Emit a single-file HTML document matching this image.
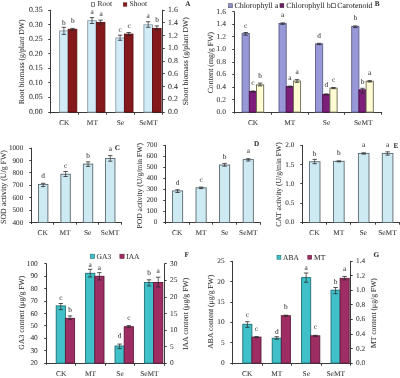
<!DOCTYPE html>
<html><head><meta charset="utf-8"><style>
html,body{margin:0;padding:0;background:#fff;}
svg{display:block;filter:blur(0.5px);}
text{font-family:"Liberation Serif",serif;fill:#333333;text-rendering:geometricPrecision;stroke:#333333;stroke-width:0.05px;}
</style></head><body>
<svg width="400" height="378" viewBox="0 0 400 378">
<rect x="0" y="0" width="400" height="378" fill="#fff"/>
<g>
<line x1="50.5" y1="9.8" x2="50.5" y2="113.6" stroke="#3a3a3a" stroke-width="1"/>
<line x1="48.3" y1="112.5" x2="50.5" y2="112.5" stroke="#3a3a3a" stroke-width="1"/>
<text x="42.6" y="114.05" font-size="7.8" text-anchor="end">0.00</text>
<line x1="48.3" y1="97.5" x2="50.5" y2="97.5" stroke="#3a3a3a" stroke-width="1"/>
<text x="42.6" y="99.49" font-size="7.8" text-anchor="end">0.05</text>
<line x1="48.3" y1="82.5" x2="50.5" y2="82.5" stroke="#3a3a3a" stroke-width="1"/>
<text x="42.6" y="84.94" font-size="7.8" text-anchor="end">0.10</text>
<line x1="48.3" y1="68.5" x2="50.5" y2="68.5" stroke="#3a3a3a" stroke-width="1"/>
<text x="42.6" y="70.38" font-size="7.8" text-anchor="end">0.15</text>
<line x1="48.3" y1="53.5" x2="50.5" y2="53.5" stroke="#3a3a3a" stroke-width="1"/>
<text x="42.6" y="55.82" font-size="7.8" text-anchor="end">0.20</text>
<line x1="48.3" y1="39.5" x2="50.5" y2="39.5" stroke="#3a3a3a" stroke-width="1"/>
<text x="42.6" y="41.26" font-size="7.8" text-anchor="end">0.25</text>
<line x1="48.3" y1="24.5" x2="50.5" y2="24.5" stroke="#3a3a3a" stroke-width="1"/>
<text x="42.6" y="26.71" font-size="7.8" text-anchor="end">0.30</text>
<line x1="48.3" y1="10.5" x2="50.5" y2="10.5" stroke="#3a3a3a" stroke-width="1"/>
<text x="42.6" y="12.15" font-size="7.8" text-anchor="end">0.35</text>
<line x1="162.5" y1="9.8" x2="162.5" y2="113.6" stroke="#3a3a3a" stroke-width="1"/>
<line x1="162.5" y1="112.5" x2="164.7" y2="112.5" stroke="#3a3a3a" stroke-width="1"/>
<text x="168.1" y="114.05" font-size="7.8" text-anchor="start">0.0</text>
<line x1="162.5" y1="99.5" x2="164.7" y2="99.5" stroke="#3a3a3a" stroke-width="1"/>
<text x="168.1" y="101.31" font-size="7.8" text-anchor="start">0.2</text>
<line x1="162.5" y1="86.5" x2="164.7" y2="86.5" stroke="#3a3a3a" stroke-width="1"/>
<text x="168.1" y="88.58" font-size="7.8" text-anchor="start">0.4</text>
<line x1="162.5" y1="73.5" x2="164.7" y2="73.5" stroke="#3a3a3a" stroke-width="1"/>
<text x="168.1" y="75.84" font-size="7.8" text-anchor="start">0.6</text>
<line x1="162.5" y1="61.5" x2="164.7" y2="61.5" stroke="#3a3a3a" stroke-width="1"/>
<text x="168.1" y="63.1" font-size="7.8" text-anchor="start">0.8</text>
<line x1="162.5" y1="48.5" x2="164.7" y2="48.5" stroke="#3a3a3a" stroke-width="1"/>
<text x="168.1" y="50.36" font-size="7.8" text-anchor="start">1.0</text>
<line x1="162.5" y1="35.5" x2="164.7" y2="35.5" stroke="#3a3a3a" stroke-width="1"/>
<text x="168.1" y="37.62" font-size="7.8" text-anchor="start">1.2</text>
<line x1="162.5" y1="22.5" x2="164.7" y2="22.5" stroke="#3a3a3a" stroke-width="1"/>
<text x="168.1" y="24.89" font-size="7.8" text-anchor="start">1.4</text>
<line x1="162.5" y1="10.5" x2="164.7" y2="10.5" stroke="#3a3a3a" stroke-width="1"/>
<text x="168.1" y="12.15" font-size="7.8" text-anchor="start">1.6</text>
<line x1="48.8" y1="112.5" x2="163" y2="112.5" stroke="#3a3a3a" stroke-width="1"/>
<line x1="78.5" y1="112.5" x2="78.5" y2="114.7" stroke="#3a3a3a" stroke-width="1"/>
<line x1="106.5" y1="112.5" x2="106.5" y2="114.7" stroke="#3a3a3a" stroke-width="1"/>
<line x1="134.5" y1="112.5" x2="134.5" y2="114.7" stroke="#3a3a3a" stroke-width="1"/>
<line x1="162.5" y1="112.5" x2="162.5" y2="114.7" stroke="#3a3a3a" stroke-width="1"/>
<text x="64.33" y="124.7" font-size="7.4" text-anchor="middle">CK</text>
<text x="92.38" y="124.7" font-size="7.4" text-anchor="middle">MT</text>
<text x="120.42" y="124.7" font-size="7.4" text-anchor="middle">Se</text>
<text x="148.47" y="124.7" font-size="7.4" text-anchor="middle">SeMT</text>
<rect x="59.6" y="30.9" width="8.6" height="81.2" fill="#d2ecf7" stroke="#8a9ca6" stroke-width="0.9"/>
<line x1="63.9" y1="27.3" x2="63.9" y2="34.4" stroke="#2a2a2a" stroke-width="0.7"/>
<line x1="61.7" y1="27.3" x2="66.1" y2="27.3" stroke="#2a2a2a" stroke-width="0.8"/>
<line x1="61.7" y1="34.4" x2="66.1" y2="34.4" stroke="#2a2a2a" stroke-width="0.8"/>
<text x="63.9" y="24.8" font-size="7.3" text-anchor="middle">b</text>
<rect x="68.2" y="29.3" width="8.6" height="82.8" fill="#85181b" stroke="#5a0e10" stroke-width="0.9"/>
<line x1="72.5" y1="28.4" x2="72.5" y2="30.3" stroke="#2a2a2a" stroke-width="0.7"/>
<line x1="70.3" y1="28.4" x2="74.7" y2="28.4" stroke="#2a2a2a" stroke-width="0.8"/>
<line x1="70.3" y1="30.3" x2="74.7" y2="30.3" stroke="#2a2a2a" stroke-width="0.8"/>
<text x="72.9" y="22.5" font-size="7.3" text-anchor="middle">b</text>
<rect x="87.7" y="20.7" width="8.6" height="91.4" fill="#d2ecf7" stroke="#8a9ca6" stroke-width="0.9"/>
<line x1="92" y1="17.6" x2="92" y2="23.5" stroke="#2a2a2a" stroke-width="0.7"/>
<line x1="89.8" y1="17.6" x2="94.2" y2="17.6" stroke="#2a2a2a" stroke-width="0.8"/>
<line x1="89.8" y1="23.5" x2="94.2" y2="23.5" stroke="#2a2a2a" stroke-width="0.8"/>
<text x="92" y="14.4" font-size="7.3" text-anchor="middle">a</text>
<rect x="96.3" y="22.4" width="8.6" height="89.7" fill="#85181b" stroke="#5a0e10" stroke-width="0.9"/>
<line x1="100.6" y1="20.1" x2="100.6" y2="24.2" stroke="#2a2a2a" stroke-width="0.7"/>
<line x1="98.4" y1="20.1" x2="102.8" y2="20.1" stroke="#2a2a2a" stroke-width="0.8"/>
<line x1="98.4" y1="24.2" x2="102.8" y2="24.2" stroke="#2a2a2a" stroke-width="0.8"/>
<text x="101" y="16.1" font-size="7.3" text-anchor="middle">a</text>
<rect x="115.8" y="38" width="8.6" height="74.1" fill="#d2ecf7" stroke="#8a9ca6" stroke-width="0.9"/>
<line x1="120.1" y1="35.2" x2="120.1" y2="40.3" stroke="#2a2a2a" stroke-width="0.7"/>
<line x1="117.9" y1="35.2" x2="122.3" y2="35.2" stroke="#2a2a2a" stroke-width="0.8"/>
<line x1="117.9" y1="40.3" x2="122.3" y2="40.3" stroke="#2a2a2a" stroke-width="0.8"/>
<text x="120.1" y="31.9" font-size="7.3" text-anchor="middle">c</text>
<rect x="124.4" y="34.1" width="8.6" height="78" fill="#85181b" stroke="#5a0e10" stroke-width="0.9"/>
<line x1="128.7" y1="32.5" x2="128.7" y2="35.7" stroke="#2a2a2a" stroke-width="0.7"/>
<line x1="126.5" y1="32.5" x2="130.9" y2="32.5" stroke="#2a2a2a" stroke-width="0.8"/>
<line x1="126.5" y1="35.7" x2="130.9" y2="35.7" stroke="#2a2a2a" stroke-width="0.8"/>
<text x="129.1" y="28.1" font-size="7.3" text-anchor="middle">c</text>
<rect x="143.9" y="24.8" width="8.6" height="87.3" fill="#d2ecf7" stroke="#8a9ca6" stroke-width="0.9"/>
<line x1="148.2" y1="21.75" x2="148.2" y2="27.3" stroke="#2a2a2a" stroke-width="0.7"/>
<line x1="146" y1="21.75" x2="150.4" y2="21.75" stroke="#2a2a2a" stroke-width="0.8"/>
<line x1="146" y1="27.3" x2="150.4" y2="27.3" stroke="#2a2a2a" stroke-width="0.8"/>
<text x="148.2" y="18.3" font-size="7.3" text-anchor="middle">a</text>
<rect x="152.5" y="28.4" width="8.6" height="83.7" fill="#85181b" stroke="#5a0e10" stroke-width="0.9"/>
<line x1="156.8" y1="25.9" x2="156.8" y2="30" stroke="#2a2a2a" stroke-width="0.7"/>
<line x1="154.6" y1="25.9" x2="159" y2="25.9" stroke="#2a2a2a" stroke-width="0.8"/>
<line x1="154.6" y1="30" x2="159" y2="30" stroke="#2a2a2a" stroke-width="0.8"/>
<text x="157.2" y="21.8" font-size="7.3" text-anchor="middle">b</text>
<text transform="translate(21.9,61.8) rotate(-90)" x="0" y="2.52" font-size="7.64" text-anchor="middle">Root biomass (g/plant DW)</text>
<text transform="translate(185.2,61.25) rotate(-90)" x="0" y="2.54" font-size="7.7" text-anchor="middle">Shoot biomass (g/plant DW)</text>
<rect x="91.3" y="2.8" width="3.4" height="3.4" fill="#ffffff" stroke="#333" stroke-width="0.6"/>
<text x="97.6" y="6.4" font-size="7.5" text-anchor="start">Root</text>
<rect x="123.4" y="2.8" width="3.4" height="3.4" fill="#85181b" stroke="#5a0e10" stroke-width="0.6"/>
<text x="129.5" y="6.4" font-size="7.5" text-anchor="start">Shoot</text>
<text x="187.8" y="6.3" font-size="7.2" text-anchor="middle" font-weight="bold">A</text>
</g>
<g>
<line x1="234.5" y1="11.5" x2="234.5" y2="113.6" stroke="#3a3a3a" stroke-width="1"/>
<line x1="232.3" y1="112.5" x2="234.5" y2="112.5" stroke="#3a3a3a" stroke-width="1"/>
<text x="225.9" y="114.05" font-size="7.5" text-anchor="end">0.0</text>
<line x1="232.3" y1="99.5" x2="234.5" y2="99.5" stroke="#3a3a3a" stroke-width="1"/>
<text x="225.9" y="101.52" font-size="7.5" text-anchor="end">0.2</text>
<line x1="232.3" y1="87.5" x2="234.5" y2="87.5" stroke="#3a3a3a" stroke-width="1"/>
<text x="225.9" y="89" font-size="7.5" text-anchor="end">0.4</text>
<line x1="232.3" y1="74.5" x2="234.5" y2="74.5" stroke="#3a3a3a" stroke-width="1"/>
<text x="225.9" y="76.48" font-size="7.5" text-anchor="end">0.6</text>
<line x1="232.3" y1="62.5" x2="234.5" y2="62.5" stroke="#3a3a3a" stroke-width="1"/>
<text x="225.9" y="63.95" font-size="7.5" text-anchor="end">0.8</text>
<line x1="232.3" y1="49.5" x2="234.5" y2="49.5" stroke="#3a3a3a" stroke-width="1"/>
<text x="225.9" y="51.43" font-size="7.5" text-anchor="end">1.0</text>
<line x1="232.3" y1="36.5" x2="234.5" y2="36.5" stroke="#3a3a3a" stroke-width="1"/>
<text x="225.9" y="38.9" font-size="7.5" text-anchor="end">1.2</text>
<line x1="232.3" y1="24.5" x2="234.5" y2="24.5" stroke="#3a3a3a" stroke-width="1"/>
<text x="225.9" y="26.38" font-size="7.5" text-anchor="end">1.4</text>
<line x1="232.3" y1="11.5" x2="234.5" y2="11.5" stroke="#3a3a3a" stroke-width="1"/>
<text x="225.9" y="13.85" font-size="7.5" text-anchor="end">1.6</text>
<line x1="233.2" y1="112.5" x2="382.1" y2="112.5" stroke="#3a3a3a" stroke-width="1"/>
<line x1="271.5" y1="112.5" x2="271.5" y2="114.7" stroke="#3a3a3a" stroke-width="1"/>
<line x1="308.5" y1="112.5" x2="308.5" y2="114.7" stroke="#3a3a3a" stroke-width="1"/>
<line x1="344.5" y1="112.5" x2="344.5" y2="114.7" stroke="#3a3a3a" stroke-width="1"/>
<line x1="381.5" y1="112.5" x2="381.5" y2="114.7" stroke="#3a3a3a" stroke-width="1"/>
<text x="253.06" y="124.7" font-size="7.4" text-anchor="middle">CK</text>
<text x="289.79" y="124.7" font-size="7.4" text-anchor="middle">MT</text>
<text x="326.51" y="124.7" font-size="7.4" text-anchor="middle">Se</text>
<text x="363.24" y="124.7" font-size="7.4" text-anchor="middle">SeMT</text>
<rect x="242.1" y="33.4" width="7.2" height="78.7" fill="#9898d8" stroke="#5c5c8c" stroke-width="0.9"/>
<line x1="245.7" y1="32.5" x2="245.7" y2="35.2" stroke="#2a2a2a" stroke-width="0.7"/>
<line x1="243.5" y1="32.5" x2="247.9" y2="32.5" stroke="#2a2a2a" stroke-width="0.8"/>
<line x1="243.5" y1="35.2" x2="247.9" y2="35.2" stroke="#2a2a2a" stroke-width="0.8"/>
<text x="245.7" y="27.6" font-size="7.3" text-anchor="middle">c</text>
<rect x="249.3" y="91.5" width="7.2" height="20.6" fill="#7c1e7a" stroke="#4f104c" stroke-width="0.9"/>
<line x1="252.9" y1="91" x2="252.9" y2="92.1" stroke="#2a2a2a" stroke-width="0.7"/>
<line x1="250.7" y1="91" x2="255.1" y2="91" stroke="#2a2a2a" stroke-width="0.8"/>
<line x1="250.7" y1="92.1" x2="255.1" y2="92.1" stroke="#2a2a2a" stroke-width="0.8"/>
<text x="252.9" y="84.5" font-size="7.3" text-anchor="middle">c</text>
<rect x="256.5" y="84.9" width="7.2" height="27.2" fill="#fffbd2" stroke="#6a6a50" stroke-width="0.9"/>
<line x1="260.1" y1="83.1" x2="260.1" y2="85.9" stroke="#2a2a2a" stroke-width="0.7"/>
<line x1="257.9" y1="83.1" x2="262.3" y2="83.1" stroke="#2a2a2a" stroke-width="0.8"/>
<line x1="257.9" y1="85.9" x2="262.3" y2="85.9" stroke="#2a2a2a" stroke-width="0.8"/>
<text x="260.1" y="77.5" font-size="7.3" text-anchor="middle">b</text>
<rect x="279" y="23.4" width="7.2" height="88.7" fill="#9898d8" stroke="#5c5c8c" stroke-width="0.9"/>
<line x1="282.6" y1="22.9" x2="282.6" y2="24.4" stroke="#2a2a2a" stroke-width="0.7"/>
<line x1="280.4" y1="22.9" x2="284.8" y2="22.9" stroke="#2a2a2a" stroke-width="0.8"/>
<line x1="280.4" y1="24.4" x2="284.8" y2="24.4" stroke="#2a2a2a" stroke-width="0.8"/>
<text x="282.6" y="16.9" font-size="7.3" text-anchor="middle">a</text>
<rect x="286.2" y="86.6" width="7.2" height="25.5" fill="#7c1e7a" stroke="#4f104c" stroke-width="0.9"/>
<line x1="289.8" y1="86.1" x2="289.8" y2="87.2" stroke="#2a2a2a" stroke-width="0.7"/>
<line x1="287.6" y1="86.1" x2="292" y2="86.1" stroke="#2a2a2a" stroke-width="0.8"/>
<line x1="287.6" y1="87.2" x2="292" y2="87.2" stroke="#2a2a2a" stroke-width="0.8"/>
<text x="289.8" y="80.1" font-size="7.3" text-anchor="middle">a</text>
<rect x="293.4" y="81" width="7.2" height="31.1" fill="#fffbd2" stroke="#6a6a50" stroke-width="0.9"/>
<line x1="297" y1="79.6" x2="297" y2="82.4" stroke="#2a2a2a" stroke-width="0.7"/>
<line x1="294.8" y1="79.6" x2="299.2" y2="79.6" stroke="#2a2a2a" stroke-width="0.8"/>
<line x1="294.8" y1="82.4" x2="299.2" y2="82.4" stroke="#2a2a2a" stroke-width="0.8"/>
<text x="297" y="74.4" font-size="7.3" text-anchor="middle">a</text>
<rect x="315.5" y="43.9" width="7.2" height="68.2" fill="#9898d8" stroke="#5c5c8c" stroke-width="0.9"/>
<line x1="319.1" y1="43.3" x2="319.1" y2="44.6" stroke="#2a2a2a" stroke-width="0.7"/>
<line x1="316.9" y1="43.3" x2="321.3" y2="43.3" stroke="#2a2a2a" stroke-width="0.8"/>
<line x1="316.9" y1="44.6" x2="321.3" y2="44.6" stroke="#2a2a2a" stroke-width="0.8"/>
<text x="319.1" y="38" font-size="7.3" text-anchor="middle">d</text>
<rect x="322.7" y="94.4" width="7.2" height="17.7" fill="#7c1e7a" stroke="#4f104c" stroke-width="0.9"/>
<line x1="326.3" y1="93.9" x2="326.3" y2="95" stroke="#2a2a2a" stroke-width="0.7"/>
<line x1="324.1" y1="93.9" x2="328.5" y2="93.9" stroke="#2a2a2a" stroke-width="0.8"/>
<line x1="324.1" y1="95" x2="328.5" y2="95" stroke="#2a2a2a" stroke-width="0.8"/>
<text x="326.3" y="87.3" font-size="7.3" text-anchor="middle">d</text>
<rect x="329.9" y="88.1" width="7.2" height="24" fill="#fffbd2" stroke="#6a6a50" stroke-width="0.9"/>
<line x1="333.5" y1="87.5" x2="333.5" y2="88.7" stroke="#2a2a2a" stroke-width="0.7"/>
<line x1="331.3" y1="87.5" x2="335.7" y2="87.5" stroke="#2a2a2a" stroke-width="0.8"/>
<line x1="331.3" y1="88.7" x2="335.7" y2="88.7" stroke="#2a2a2a" stroke-width="0.8"/>
<text x="333.5" y="82.3" font-size="7.3" text-anchor="middle">c</text>
<rect x="351.7" y="26.4" width="7.2" height="85.7" fill="#9898d8" stroke="#5c5c8c" stroke-width="0.9"/>
<line x1="355.3" y1="25.9" x2="355.3" y2="27.6" stroke="#2a2a2a" stroke-width="0.7"/>
<line x1="353.1" y1="25.9" x2="357.5" y2="25.9" stroke="#2a2a2a" stroke-width="0.8"/>
<line x1="353.1" y1="27.6" x2="357.5" y2="27.6" stroke="#2a2a2a" stroke-width="0.8"/>
<text x="355.3" y="20.3" font-size="7.3" text-anchor="middle">b</text>
<rect x="358.9" y="89.8" width="7.2" height="22.3" fill="#7c1e7a" stroke="#4f104c" stroke-width="0.9"/>
<line x1="362.5" y1="88.3" x2="362.5" y2="93" stroke="#2a2a2a" stroke-width="0.7"/>
<line x1="360.3" y1="88.3" x2="364.7" y2="88.3" stroke="#2a2a2a" stroke-width="0.8"/>
<line x1="360.3" y1="93" x2="364.7" y2="93" stroke="#2a2a2a" stroke-width="0.8"/>
<text x="362.5" y="84.1" font-size="7.3" text-anchor="middle">b</text>
<rect x="366.1" y="81.3" width="7.2" height="30.8" fill="#fffbd2" stroke="#6a6a50" stroke-width="0.9"/>
<line x1="369.7" y1="80.6" x2="369.7" y2="82" stroke="#2a2a2a" stroke-width="0.7"/>
<line x1="367.5" y1="80.6" x2="371.9" y2="80.6" stroke="#2a2a2a" stroke-width="0.8"/>
<line x1="367.5" y1="82" x2="371.9" y2="82" stroke="#2a2a2a" stroke-width="0.8"/>
<text x="369.7" y="75.3" font-size="7.3" text-anchor="middle">a</text>
<text transform="translate(210.9,62.6) rotate(-90)" x="0" y="2.57" font-size="7.8" text-anchor="middle">Content (mg/g FW)</text>
<rect x="228.5" y="3.7" width="4" height="4" fill="#8e8ec4" stroke="#555577" stroke-width="0.6"/>
<text x="234.4" y="7.8" font-size="7.95" text-anchor="start">Chlorophyll a</text>
<rect x="280" y="3.7" width="3.8" height="3.8" fill="#6e2068" stroke="#3a1038" stroke-width="0.6"/>
<text x="286.3" y="7.8" font-size="7.95" text-anchor="start">Chlorophyll b</text>
<rect x="331.4" y="3.7" width="4" height="4" fill="#ffffff" stroke="#333" stroke-width="0.6"/>
<text x="337.3" y="7.8" font-size="7.95" text-anchor="start">Carotenoid</text>
<text x="377.1" y="6.1" font-size="7.2" text-anchor="middle" font-weight="bold">B</text>
</g>
<g>
<line x1="31.5" y1="147.8" x2="31.5" y2="224.05" stroke="#3a3a3a" stroke-width="1"/>
<line x1="29.3" y1="222.5" x2="31.5" y2="222.5" stroke="#3a3a3a" stroke-width="1"/>
<text x="23.3" y="224.5" font-size="7.2" text-anchor="end">400</text>
<line x1="29.3" y1="210.5" x2="31.5" y2="210.5" stroke="#3a3a3a" stroke-width="1"/>
<text x="23.3" y="212.11" font-size="7.2" text-anchor="end">500</text>
<line x1="29.3" y1="197.5" x2="31.5" y2="197.5" stroke="#3a3a3a" stroke-width="1"/>
<text x="23.3" y="199.72" font-size="7.2" text-anchor="end">600</text>
<line x1="29.3" y1="185.5" x2="31.5" y2="185.5" stroke="#3a3a3a" stroke-width="1"/>
<text x="23.3" y="187.32" font-size="7.2" text-anchor="end">700</text>
<line x1="29.3" y1="172.5" x2="31.5" y2="172.5" stroke="#3a3a3a" stroke-width="1"/>
<text x="23.3" y="174.93" font-size="7.2" text-anchor="end">800</text>
<line x1="29.3" y1="160.5" x2="31.5" y2="160.5" stroke="#3a3a3a" stroke-width="1"/>
<text x="23.3" y="162.54" font-size="7.2" text-anchor="end">900</text>
<line x1="29.3" y1="148.5" x2="31.5" y2="148.5" stroke="#3a3a3a" stroke-width="1"/>
<text x="23.3" y="150.15" font-size="7.2" text-anchor="end">1000</text>
<line x1="29.85" y1="222.5" x2="121.85" y2="222.5" stroke="#3a3a3a" stroke-width="1"/>
<line x1="53.5" y1="222.5" x2="53.5" y2="224.7" stroke="#3a3a3a" stroke-width="1"/>
<line x1="76.5" y1="222.5" x2="76.5" y2="224.7" stroke="#3a3a3a" stroke-width="1"/>
<line x1="98.5" y1="222.5" x2="98.5" y2="224.7" stroke="#3a3a3a" stroke-width="1"/>
<line x1="121.5" y1="222.5" x2="121.5" y2="224.7" stroke="#3a3a3a" stroke-width="1"/>
<text x="42.6" y="235.2" font-size="7.4" text-anchor="middle">CK</text>
<text x="65.1" y="235.2" font-size="7.4" text-anchor="middle">MT</text>
<text x="87.6" y="235.2" font-size="7.4" text-anchor="middle">Se</text>
<text x="110.1" y="235.2" font-size="7.4" text-anchor="middle">SeMT</text>
<rect x="38.5" y="184.4" width="9.4" height="38.15" fill="#cdeaf2" stroke="#5b6870" stroke-width="0.9"/>
<line x1="43.2" y1="183.3" x2="43.2" y2="186.6" stroke="#2a2a2a" stroke-width="0.7"/>
<line x1="41" y1="183.3" x2="45.4" y2="183.3" stroke="#2a2a2a" stroke-width="0.8"/>
<line x1="41" y1="186.6" x2="45.4" y2="186.6" stroke="#2a2a2a" stroke-width="0.8"/>
<text x="43.2" y="178.3" font-size="7.3" text-anchor="middle">d</text>
<rect x="60.9" y="174.25" width="9.4" height="48.3" fill="#cdeaf2" stroke="#5b6870" stroke-width="0.9"/>
<line x1="65.6" y1="171.5" x2="65.6" y2="176.5" stroke="#2a2a2a" stroke-width="0.7"/>
<line x1="63.4" y1="171.5" x2="67.8" y2="171.5" stroke="#2a2a2a" stroke-width="0.8"/>
<line x1="63.4" y1="176.5" x2="67.8" y2="176.5" stroke="#2a2a2a" stroke-width="0.8"/>
<text x="65.6" y="168" font-size="7.3" text-anchor="middle">c</text>
<rect x="83.35" y="164.1" width="9.4" height="58.45" fill="#cdeaf2" stroke="#5b6870" stroke-width="0.9"/>
<line x1="88.05" y1="161.9" x2="88.05" y2="166.4" stroke="#2a2a2a" stroke-width="0.7"/>
<line x1="85.85" y1="161.9" x2="90.25" y2="161.9" stroke="#2a2a2a" stroke-width="0.8"/>
<line x1="85.85" y1="166.4" x2="90.25" y2="166.4" stroke="#2a2a2a" stroke-width="0.8"/>
<text x="88.05" y="158" font-size="7.3" text-anchor="middle">b</text>
<rect x="105.55" y="158.5" width="9.4" height="64.05" fill="#cdeaf2" stroke="#5b6870" stroke-width="0.9"/>
<line x1="110.25" y1="155.6" x2="110.25" y2="161.2" stroke="#2a2a2a" stroke-width="0.7"/>
<line x1="108.05" y1="155.6" x2="112.45" y2="155.6" stroke="#2a2a2a" stroke-width="0.8"/>
<line x1="108.05" y1="161.2" x2="112.45" y2="161.2" stroke="#2a2a2a" stroke-width="0.8"/>
<text x="110.25" y="151.4" font-size="7.3" text-anchor="middle">a</text>
<text transform="translate(3.9,187) rotate(-90)" x="0" y="2.59" font-size="7.85" text-anchor="middle">SOD activity (U/g FW)</text>
<text x="117.45" y="149.9" font-size="7.2" text-anchor="middle" font-weight="bold">C</text>
</g>
<g>
<line x1="165.5" y1="144.9" x2="165.5" y2="224" stroke="#3a3a3a" stroke-width="1"/>
<line x1="163.3" y1="222.5" x2="165.5" y2="222.5" stroke="#3a3a3a" stroke-width="1"/>
<text x="157.3" y="224.45" font-size="7.2" text-anchor="end">0</text>
<line x1="163.3" y1="211.5" x2="165.5" y2="211.5" stroke="#3a3a3a" stroke-width="1"/>
<text x="157.3" y="213.42" font-size="7.2" text-anchor="end">100</text>
<line x1="163.3" y1="200.5" x2="165.5" y2="200.5" stroke="#3a3a3a" stroke-width="1"/>
<text x="157.3" y="202.39" font-size="7.2" text-anchor="end">200</text>
<line x1="163.3" y1="189.5" x2="165.5" y2="189.5" stroke="#3a3a3a" stroke-width="1"/>
<text x="157.3" y="191.36" font-size="7.2" text-anchor="end">300</text>
<line x1="163.3" y1="178.5" x2="165.5" y2="178.5" stroke="#3a3a3a" stroke-width="1"/>
<text x="157.3" y="180.34" font-size="7.2" text-anchor="end">400</text>
<line x1="163.3" y1="167.5" x2="165.5" y2="167.5" stroke="#3a3a3a" stroke-width="1"/>
<text x="157.3" y="169.31" font-size="7.2" text-anchor="end">500</text>
<line x1="163.3" y1="156.5" x2="165.5" y2="156.5" stroke="#3a3a3a" stroke-width="1"/>
<text x="157.3" y="158.28" font-size="7.2" text-anchor="end">600</text>
<line x1="163.3" y1="145.5" x2="165.5" y2="145.5" stroke="#3a3a3a" stroke-width="1"/>
<text x="157.3" y="147.25" font-size="7.2" text-anchor="end">700</text>
<line x1="163.9" y1="222.5" x2="260.7" y2="222.5" stroke="#3a3a3a" stroke-width="1"/>
<line x1="189.5" y1="222.5" x2="189.5" y2="224.7" stroke="#3a3a3a" stroke-width="1"/>
<line x1="212.5" y1="222.5" x2="212.5" y2="224.7" stroke="#3a3a3a" stroke-width="1"/>
<line x1="236.5" y1="222.5" x2="236.5" y2="224.7" stroke="#3a3a3a" stroke-width="1"/>
<line x1="260.5" y1="222.5" x2="260.5" y2="224.7" stroke="#3a3a3a" stroke-width="1"/>
<text x="177.25" y="235.2" font-size="7.4" text-anchor="middle">CK</text>
<text x="200.95" y="235.2" font-size="7.4" text-anchor="middle">MT</text>
<text x="224.65" y="235.2" font-size="7.4" text-anchor="middle">Se</text>
<text x="248.35" y="235.2" font-size="7.4" text-anchor="middle">SeMT</text>
<rect x="172.45" y="190.9" width="10.2" height="31.6" fill="#cdeaf2" stroke="#5b6870" stroke-width="0.9"/>
<line x1="177.55" y1="189.7" x2="177.55" y2="192.5" stroke="#2a2a2a" stroke-width="0.7"/>
<line x1="175.35" y1="189.7" x2="179.75" y2="189.7" stroke="#2a2a2a" stroke-width="0.8"/>
<line x1="175.35" y1="192.5" x2="179.75" y2="192.5" stroke="#2a2a2a" stroke-width="0.8"/>
<text x="177.55" y="185" font-size="7.3" text-anchor="middle">d</text>
<rect x="196" y="187.8" width="10.2" height="34.7" fill="#cdeaf2" stroke="#5b6870" stroke-width="0.9"/>
<line x1="201.1" y1="187.1" x2="201.1" y2="188.6" stroke="#2a2a2a" stroke-width="0.7"/>
<line x1="198.9" y1="187.1" x2="203.3" y2="187.1" stroke="#2a2a2a" stroke-width="0.8"/>
<line x1="198.9" y1="188.6" x2="203.3" y2="188.6" stroke="#2a2a2a" stroke-width="0.8"/>
<text x="201.1" y="181.5" font-size="7.3" text-anchor="middle">c</text>
<rect x="219.45" y="165" width="10.2" height="57.5" fill="#cdeaf2" stroke="#5b6870" stroke-width="0.9"/>
<line x1="224.55" y1="163.4" x2="224.55" y2="166.2" stroke="#2a2a2a" stroke-width="0.7"/>
<line x1="222.35" y1="163.4" x2="226.75" y2="163.4" stroke="#2a2a2a" stroke-width="0.8"/>
<line x1="222.35" y1="166.2" x2="226.75" y2="166.2" stroke="#2a2a2a" stroke-width="0.8"/>
<text x="224.55" y="158.7" font-size="7.3" text-anchor="middle">b</text>
<rect x="243.15" y="159.6" width="10.2" height="62.9" fill="#cdeaf2" stroke="#5b6870" stroke-width="0.9"/>
<line x1="248.25" y1="158.7" x2="248.25" y2="161" stroke="#2a2a2a" stroke-width="0.7"/>
<line x1="246.05" y1="158.7" x2="250.45" y2="158.7" stroke="#2a2a2a" stroke-width="0.8"/>
<line x1="246.05" y1="161" x2="250.45" y2="161" stroke="#2a2a2a" stroke-width="0.8"/>
<text x="248.25" y="153.3" font-size="7.3" text-anchor="middle">a</text>
<text transform="translate(139.1,185.75) rotate(-90)" x="0" y="2.51" font-size="7.6" text-anchor="middle">POD activity (U/g/min FW)</text>
<text x="256.5" y="146.2" font-size="7.2" text-anchor="middle" font-weight="bold">D</text>
</g>
<g>
<line x1="302.5" y1="144.9" x2="302.5" y2="224" stroke="#3a3a3a" stroke-width="1"/>
<line x1="300.3" y1="222.5" x2="302.5" y2="222.5" stroke="#3a3a3a" stroke-width="1"/>
<text x="294.3" y="224.45" font-size="7.2" text-anchor="end">0.0</text>
<line x1="300.3" y1="203.5" x2="302.5" y2="203.5" stroke="#3a3a3a" stroke-width="1"/>
<text x="294.3" y="205.15" font-size="7.2" text-anchor="end">0.5</text>
<line x1="300.3" y1="183.5" x2="302.5" y2="183.5" stroke="#3a3a3a" stroke-width="1"/>
<text x="294.3" y="185.85" font-size="7.2" text-anchor="end">1.0</text>
<line x1="300.3" y1="164.5" x2="302.5" y2="164.5" stroke="#3a3a3a" stroke-width="1"/>
<text x="294.3" y="166.55" font-size="7.2" text-anchor="end">1.5</text>
<line x1="300.3" y1="145.5" x2="302.5" y2="145.5" stroke="#3a3a3a" stroke-width="1"/>
<text x="294.3" y="147.25" font-size="7.2" text-anchor="end">2.0</text>
<line x1="300.8" y1="222.5" x2="400.1" y2="222.5" stroke="#3a3a3a" stroke-width="1"/>
<line x1="326.5" y1="222.5" x2="326.5" y2="224.7" stroke="#3a3a3a" stroke-width="1"/>
<line x1="350.5" y1="222.5" x2="350.5" y2="224.7" stroke="#3a3a3a" stroke-width="1"/>
<line x1="375.5" y1="222.5" x2="375.5" y2="224.7" stroke="#3a3a3a" stroke-width="1"/>
<line x1="399.5" y1="222.5" x2="399.5" y2="224.7" stroke="#3a3a3a" stroke-width="1"/>
<text x="314.46" y="235.2" font-size="7.4" text-anchor="middle">CK</text>
<text x="338.79" y="235.2" font-size="7.4" text-anchor="middle">MT</text>
<text x="363.11" y="235.2" font-size="7.4" text-anchor="middle">Se</text>
<text x="387.44" y="235.2" font-size="7.4" text-anchor="middle">SeMT</text>
<rect x="309.4" y="161.75" width="10.6" height="60.75" fill="#cdeaf2" stroke="#5b6870" stroke-width="0.9"/>
<line x1="314.7" y1="159.4" x2="314.7" y2="163.7" stroke="#2a2a2a" stroke-width="0.7"/>
<line x1="312.5" y1="159.4" x2="316.9" y2="159.4" stroke="#2a2a2a" stroke-width="0.8"/>
<line x1="312.5" y1="163.7" x2="316.9" y2="163.7" stroke="#2a2a2a" stroke-width="0.8"/>
<text x="314.7" y="155.8" font-size="7.3" text-anchor="middle">b</text>
<rect x="333.55" y="161.3" width="10.6" height="61.2" fill="#cdeaf2" stroke="#5b6870" stroke-width="0.9"/>
<line x1="338.85" y1="160.9" x2="338.85" y2="161.8" stroke="#2a2a2a" stroke-width="0.7"/>
<line x1="336.65" y1="160.9" x2="341.05" y2="160.9" stroke="#2a2a2a" stroke-width="0.8"/>
<line x1="336.65" y1="161.8" x2="341.05" y2="161.8" stroke="#2a2a2a" stroke-width="0.8"/>
<text x="338.85" y="155.1" font-size="7.3" text-anchor="middle">b</text>
<rect x="358.4" y="153.4" width="10.6" height="69.1" fill="#cdeaf2" stroke="#5b6870" stroke-width="0.9"/>
<line x1="363.7" y1="152.8" x2="363.7" y2="154.1" stroke="#2a2a2a" stroke-width="0.7"/>
<line x1="361.5" y1="152.8" x2="365.9" y2="152.8" stroke="#2a2a2a" stroke-width="0.8"/>
<line x1="361.5" y1="154.1" x2="365.9" y2="154.1" stroke="#2a2a2a" stroke-width="0.8"/>
<text x="363.7" y="147" font-size="7.3" text-anchor="middle">a</text>
<rect x="382.3" y="153.4" width="10.6" height="69.1" fill="#cdeaf2" stroke="#5b6870" stroke-width="0.9"/>
<line x1="387.6" y1="151.8" x2="387.6" y2="155.1" stroke="#2a2a2a" stroke-width="0.7"/>
<line x1="385.4" y1="151.8" x2="389.8" y2="151.8" stroke="#2a2a2a" stroke-width="0.8"/>
<line x1="385.4" y1="155.1" x2="389.8" y2="155.1" stroke="#2a2a2a" stroke-width="0.8"/>
<text x="387.6" y="147" font-size="7.3" text-anchor="middle">a</text>
<text transform="translate(278.1,184.5) rotate(-90)" x="0" y="2.51" font-size="7.6" text-anchor="middle">CAT activity (U/g/min FW)</text>
<text x="395.8" y="147.5" font-size="7.2" text-anchor="middle" font-weight="bold">E</text>
</g>
<g>
<line x1="46.5" y1="263.5" x2="46.5" y2="364.7" stroke="#3a3a3a" stroke-width="1"/>
<line x1="44.3" y1="363.5" x2="46.5" y2="363.5" stroke="#3a3a3a" stroke-width="1"/>
<text x="37.8" y="365.15" font-size="7.4" text-anchor="end">20</text>
<line x1="44.3" y1="350.5" x2="46.5" y2="350.5" stroke="#3a3a3a" stroke-width="1"/>
<text x="37.8" y="352.74" font-size="7.4" text-anchor="end">30</text>
<line x1="44.3" y1="338.5" x2="46.5" y2="338.5" stroke="#3a3a3a" stroke-width="1"/>
<text x="37.8" y="340.32" font-size="7.4" text-anchor="end">40</text>
<line x1="44.3" y1="325.5" x2="46.5" y2="325.5" stroke="#3a3a3a" stroke-width="1"/>
<text x="37.8" y="327.91" font-size="7.4" text-anchor="end">50</text>
<line x1="44.3" y1="313.5" x2="46.5" y2="313.5" stroke="#3a3a3a" stroke-width="1"/>
<text x="37.8" y="315.5" font-size="7.4" text-anchor="end">60</text>
<line x1="44.3" y1="301.5" x2="46.5" y2="301.5" stroke="#3a3a3a" stroke-width="1"/>
<text x="37.8" y="303.09" font-size="7.4" text-anchor="end">70</text>
<line x1="44.3" y1="288.5" x2="46.5" y2="288.5" stroke="#3a3a3a" stroke-width="1"/>
<text x="37.8" y="290.67" font-size="7.4" text-anchor="end">80</text>
<line x1="44.3" y1="276.5" x2="46.5" y2="276.5" stroke="#3a3a3a" stroke-width="1"/>
<text x="37.8" y="278.26" font-size="7.4" text-anchor="end">90</text>
<line x1="44.3" y1="263.5" x2="46.5" y2="263.5" stroke="#3a3a3a" stroke-width="1"/>
<text x="37.8" y="265.85" font-size="7.4" text-anchor="end">100</text>
<line x1="164.5" y1="263.5" x2="164.5" y2="364.7" stroke="#3a3a3a" stroke-width="1"/>
<line x1="164.5" y1="363.5" x2="166.7" y2="363.5" stroke="#3a3a3a" stroke-width="1"/>
<text x="170.1" y="365.15" font-size="7.4" text-anchor="start">0</text>
<line x1="164.5" y1="346.5" x2="166.7" y2="346.5" stroke="#3a3a3a" stroke-width="1"/>
<text x="170.1" y="348.6" font-size="7.4" text-anchor="start">5</text>
<line x1="164.5" y1="330.5" x2="166.7" y2="330.5" stroke="#3a3a3a" stroke-width="1"/>
<text x="170.1" y="332.05" font-size="7.4" text-anchor="start">10</text>
<line x1="164.5" y1="313.5" x2="166.7" y2="313.5" stroke="#3a3a3a" stroke-width="1"/>
<text x="170.1" y="315.5" font-size="7.4" text-anchor="start">15</text>
<line x1="164.5" y1="297.5" x2="166.7" y2="297.5" stroke="#3a3a3a" stroke-width="1"/>
<text x="170.1" y="298.95" font-size="7.4" text-anchor="start">20</text>
<line x1="164.5" y1="280.5" x2="166.7" y2="280.5" stroke="#3a3a3a" stroke-width="1"/>
<text x="170.1" y="282.4" font-size="7.4" text-anchor="start">25</text>
<line x1="164.5" y1="263.5" x2="166.7" y2="263.5" stroke="#3a3a3a" stroke-width="1"/>
<text x="170.1" y="265.85" font-size="7.4" text-anchor="start">30</text>
<line x1="45" y1="363.5" x2="164.6" y2="363.5" stroke="#3a3a3a" stroke-width="1"/>
<line x1="75.5" y1="363.5" x2="75.5" y2="365.7" stroke="#3a3a3a" stroke-width="1"/>
<line x1="105.5" y1="363.5" x2="105.5" y2="365.7" stroke="#3a3a3a" stroke-width="1"/>
<line x1="134.5" y1="363.5" x2="134.5" y2="365.7" stroke="#3a3a3a" stroke-width="1"/>
<line x1="164.5" y1="363.5" x2="164.5" y2="365.7" stroke="#3a3a3a" stroke-width="1"/>
<text x="61.2" y="375.8" font-size="7.4" text-anchor="middle">CK</text>
<text x="90.6" y="375.8" font-size="7.4" text-anchor="middle">MT</text>
<text x="120" y="375.8" font-size="7.4" text-anchor="middle">Se</text>
<text x="149.4" y="375.8" font-size="7.4" text-anchor="middle">SeMT</text>
<rect x="56.2" y="305.9" width="9.2" height="57.3" fill="#40c0c8" stroke="#1f6e74" stroke-width="0.9"/>
<line x1="60.8" y1="303.5" x2="60.8" y2="309.6" stroke="#2a2a2a" stroke-width="0.7"/>
<line x1="58.6" y1="303.5" x2="63" y2="303.5" stroke="#2a2a2a" stroke-width="0.8"/>
<line x1="58.6" y1="309.6" x2="63" y2="309.6" stroke="#2a2a2a" stroke-width="0.8"/>
<text x="60.8" y="299.8" font-size="7.3" text-anchor="middle">c</text>
<rect x="65.4" y="318.3" width="9.2" height="44.9" fill="#9e2d64" stroke="#5e1a3a" stroke-width="0.9"/>
<line x1="70" y1="315.9" x2="70" y2="319.6" stroke="#2a2a2a" stroke-width="0.7"/>
<line x1="67.8" y1="315.9" x2="72.2" y2="315.9" stroke="#2a2a2a" stroke-width="0.8"/>
<line x1="67.8" y1="319.6" x2="72.2" y2="319.6" stroke="#2a2a2a" stroke-width="0.8"/>
<text x="70" y="311.5" font-size="7.3" text-anchor="middle">b</text>
<rect x="85.6" y="273.3" width="9.2" height="89.9" fill="#40c0c8" stroke="#1f6e74" stroke-width="0.9"/>
<line x1="90.2" y1="269.3" x2="90.2" y2="277" stroke="#2a2a2a" stroke-width="0.7"/>
<line x1="88" y1="269.3" x2="92.4" y2="269.3" stroke="#2a2a2a" stroke-width="0.8"/>
<line x1="88" y1="277" x2="92.4" y2="277" stroke="#2a2a2a" stroke-width="0.8"/>
<text x="90.2" y="266.8" font-size="7.3" text-anchor="middle">a</text>
<rect x="94.8" y="276.3" width="9.2" height="86.9" fill="#9e2d64" stroke="#5e1a3a" stroke-width="0.9"/>
<line x1="99.4" y1="272.6" x2="99.4" y2="280" stroke="#2a2a2a" stroke-width="0.7"/>
<line x1="97.2" y1="272.6" x2="101.6" y2="272.6" stroke="#2a2a2a" stroke-width="0.8"/>
<line x1="97.2" y1="280" x2="101.6" y2="280" stroke="#2a2a2a" stroke-width="0.8"/>
<text x="99.4" y="270.2" font-size="7.3" text-anchor="middle">a</text>
<rect x="115" y="346" width="9.2" height="17.2" fill="#40c0c8" stroke="#1f6e74" stroke-width="0.9"/>
<line x1="119.6" y1="344.1" x2="119.6" y2="348.6" stroke="#2a2a2a" stroke-width="0.7"/>
<line x1="117.4" y1="344.1" x2="121.8" y2="344.1" stroke="#2a2a2a" stroke-width="0.8"/>
<line x1="117.4" y1="348.6" x2="121.8" y2="348.6" stroke="#2a2a2a" stroke-width="0.8"/>
<text x="119.6" y="338" font-size="7.3" text-anchor="middle">d</text>
<rect x="124.2" y="326.7" width="9.2" height="36.5" fill="#9e2d64" stroke="#5e1a3a" stroke-width="0.9"/>
<line x1="128.8" y1="325.6" x2="128.8" y2="327.7" stroke="#2a2a2a" stroke-width="0.7"/>
<line x1="126.6" y1="325.6" x2="131" y2="325.6" stroke="#2a2a2a" stroke-width="0.8"/>
<line x1="126.6" y1="327.7" x2="131" y2="327.7" stroke="#2a2a2a" stroke-width="0.8"/>
<text x="128.8" y="320.3" font-size="7.3" text-anchor="middle">c</text>
<rect x="144.4" y="282.5" width="9.2" height="80.7" fill="#40c0c8" stroke="#1f6e74" stroke-width="0.9"/>
<line x1="149" y1="279.8" x2="149" y2="285.9" stroke="#2a2a2a" stroke-width="0.7"/>
<line x1="146.8" y1="279.8" x2="151.2" y2="279.8" stroke="#2a2a2a" stroke-width="0.8"/>
<line x1="146.8" y1="285.9" x2="151.2" y2="285.9" stroke="#2a2a2a" stroke-width="0.8"/>
<text x="149" y="275.3" font-size="7.3" text-anchor="middle">b</text>
<rect x="153.6" y="282.5" width="9.2" height="80.7" fill="#9e2d64" stroke="#5e1a3a" stroke-width="0.9"/>
<line x1="158.2" y1="277.2" x2="158.2" y2="287" stroke="#2a2a2a" stroke-width="0.7"/>
<line x1="156" y1="277.2" x2="160.4" y2="277.2" stroke="#2a2a2a" stroke-width="0.8"/>
<line x1="156" y1="287" x2="160.4" y2="287" stroke="#2a2a2a" stroke-width="0.8"/>
<text x="158.2" y="272.7" font-size="7.3" text-anchor="middle">a</text>
<text transform="translate(21.9,312.7) rotate(-90)" x="0" y="2.54" font-size="7.7" text-anchor="middle">GA3 content (μg/g FW)</text>
<text transform="translate(185,313.9) rotate(-90)" x="0" y="2.54" font-size="7.7" text-anchor="middle">IAA content (μg/g FW)</text>
<rect x="90.4" y="254.2" width="4.2" height="4.2" fill="#40c0c8" stroke="#1f6e74" stroke-width="0.6"/>
<text x="96.6" y="258.6" font-size="7.5" text-anchor="start">GA3</text>
<rect x="119.9" y="254.2" width="4.2" height="4.2" fill="#9e2d64" stroke="#5e1a3a" stroke-width="0.6"/>
<text x="126.2" y="258.6" font-size="7.5" text-anchor="start">IAA</text>
<text x="186.8" y="257.2" font-size="7.2" text-anchor="middle" font-weight="bold">F</text>
</g>
<g>
<line x1="232.5" y1="260.95" x2="232.5" y2="364.6" stroke="#3a3a3a" stroke-width="1"/>
<line x1="230.3" y1="363.5" x2="232.5" y2="363.5" stroke="#3a3a3a" stroke-width="1"/>
<text x="224.6" y="365.05" font-size="7.3" text-anchor="end">0</text>
<line x1="230.3" y1="342.5" x2="232.5" y2="342.5" stroke="#3a3a3a" stroke-width="1"/>
<text x="224.6" y="344.7" font-size="7.3" text-anchor="end">5</text>
<line x1="230.3" y1="322.5" x2="232.5" y2="322.5" stroke="#3a3a3a" stroke-width="1"/>
<text x="224.6" y="324.35" font-size="7.3" text-anchor="end">10</text>
<line x1="230.3" y1="302.5" x2="232.5" y2="302.5" stroke="#3a3a3a" stroke-width="1"/>
<text x="224.6" y="304" font-size="7.3" text-anchor="end">15</text>
<line x1="230.3" y1="281.5" x2="232.5" y2="281.5" stroke="#3a3a3a" stroke-width="1"/>
<text x="224.6" y="283.65" font-size="7.3" text-anchor="end">20</text>
<line x1="230.3" y1="261.5" x2="232.5" y2="261.5" stroke="#3a3a3a" stroke-width="1"/>
<text x="224.6" y="263.3" font-size="7.3" text-anchor="end">25</text>
<line x1="350.5" y1="260.95" x2="350.5" y2="364.6" stroke="#3a3a3a" stroke-width="1"/>
<line x1="350.5" y1="363.5" x2="352.7" y2="363.5" stroke="#3a3a3a" stroke-width="1"/>
<text x="356.1" y="365.05" font-size="7.3" text-anchor="start">0.0</text>
<line x1="350.5" y1="348.5" x2="352.7" y2="348.5" stroke="#3a3a3a" stroke-width="1"/>
<text x="356.1" y="350.51" font-size="7.3" text-anchor="start">0.2</text>
<line x1="350.5" y1="334.5" x2="352.7" y2="334.5" stroke="#3a3a3a" stroke-width="1"/>
<text x="356.1" y="335.98" font-size="7.3" text-anchor="start">0.4</text>
<line x1="350.5" y1="319.5" x2="352.7" y2="319.5" stroke="#3a3a3a" stroke-width="1"/>
<text x="356.1" y="321.44" font-size="7.3" text-anchor="start">0.6</text>
<line x1="350.5" y1="304.5" x2="352.7" y2="304.5" stroke="#3a3a3a" stroke-width="1"/>
<text x="356.1" y="306.91" font-size="7.3" text-anchor="start">0.8</text>
<line x1="350.5" y1="290.5" x2="352.7" y2="290.5" stroke="#3a3a3a" stroke-width="1"/>
<text x="356.1" y="292.37" font-size="7.3" text-anchor="start">1.0</text>
<line x1="350.5" y1="275.5" x2="352.7" y2="275.5" stroke="#3a3a3a" stroke-width="1"/>
<text x="356.1" y="277.84" font-size="7.3" text-anchor="start">1.2</text>
<line x1="350.5" y1="261.5" x2="352.7" y2="261.5" stroke="#3a3a3a" stroke-width="1"/>
<text x="356.1" y="263.3" font-size="7.3" text-anchor="start">1.4</text>
<line x1="231" y1="363.5" x2="351" y2="363.5" stroke="#3a3a3a" stroke-width="1"/>
<line x1="262.5" y1="363.5" x2="262.5" y2="365.7" stroke="#3a3a3a" stroke-width="1"/>
<line x1="291.5" y1="363.5" x2="291.5" y2="365.7" stroke="#3a3a3a" stroke-width="1"/>
<line x1="321.5" y1="363.5" x2="321.5" y2="365.7" stroke="#3a3a3a" stroke-width="1"/>
<line x1="350.5" y1="363.5" x2="350.5" y2="365.7" stroke="#3a3a3a" stroke-width="1"/>
<text x="247.25" y="375.8" font-size="7.4" text-anchor="middle">CK</text>
<text x="276.75" y="375.8" font-size="7.4" text-anchor="middle">MT</text>
<text x="306.25" y="375.8" font-size="7.4" text-anchor="middle">Se</text>
<text x="335.75" y="375.8" font-size="7.4" text-anchor="middle">SeMT</text>
<rect x="242.8" y="324.3" width="9.1" height="38.8" fill="#40c0c8" stroke="#1f6e74" stroke-width="0.9"/>
<line x1="247.35" y1="321.7" x2="247.35" y2="327.3" stroke="#2a2a2a" stroke-width="0.7"/>
<line x1="245.15" y1="321.7" x2="249.55" y2="321.7" stroke="#2a2a2a" stroke-width="0.8"/>
<line x1="245.15" y1="327.3" x2="249.55" y2="327.3" stroke="#2a2a2a" stroke-width="0.8"/>
<text x="247.35" y="317.2" font-size="7.3" text-anchor="middle">c</text>
<rect x="251.9" y="337.1" width="9.1" height="26" fill="#9e2d64" stroke="#5e1a3a" stroke-width="0.9"/>
<line x1="256.45" y1="336.6" x2="256.45" y2="337.6" stroke="#2a2a2a" stroke-width="0.7"/>
<line x1="254.25" y1="336.6" x2="258.65" y2="336.6" stroke="#2a2a2a" stroke-width="0.8"/>
<line x1="254.25" y1="337.6" x2="258.65" y2="337.6" stroke="#2a2a2a" stroke-width="0.8"/>
<text x="256.45" y="330.9" font-size="7.3" text-anchor="middle">c</text>
<rect x="272.2" y="338.2" width="9.1" height="24.9" fill="#40c0c8" stroke="#1f6e74" stroke-width="0.9"/>
<line x1="276.75" y1="336.7" x2="276.75" y2="339.3" stroke="#2a2a2a" stroke-width="0.7"/>
<line x1="274.55" y1="336.7" x2="278.95" y2="336.7" stroke="#2a2a2a" stroke-width="0.8"/>
<line x1="274.55" y1="339.3" x2="278.95" y2="339.3" stroke="#2a2a2a" stroke-width="0.8"/>
<text x="276.75" y="334.2" font-size="7.3" text-anchor="middle">d</text>
<rect x="281.3" y="315.7" width="9.1" height="47.4" fill="#9e2d64" stroke="#5e1a3a" stroke-width="0.9"/>
<line x1="285.85" y1="315.2" x2="285.85" y2="316.2" stroke="#2a2a2a" stroke-width="0.7"/>
<line x1="283.65" y1="315.2" x2="288.05" y2="315.2" stroke="#2a2a2a" stroke-width="0.8"/>
<line x1="283.65" y1="316.2" x2="288.05" y2="316.2" stroke="#2a2a2a" stroke-width="0.8"/>
<text x="285.85" y="309.3" font-size="7.3" text-anchor="middle">b</text>
<rect x="301.6" y="277.6" width="9.1" height="85.5" fill="#40c0c8" stroke="#1f6e74" stroke-width="0.9"/>
<line x1="306.15" y1="273" x2="306.15" y2="282.2" stroke="#2a2a2a" stroke-width="0.7"/>
<line x1="303.95" y1="273" x2="308.35" y2="273" stroke="#2a2a2a" stroke-width="0.8"/>
<line x1="303.95" y1="282.2" x2="308.35" y2="282.2" stroke="#2a2a2a" stroke-width="0.8"/>
<text x="306.15" y="269.5" font-size="7.3" text-anchor="middle">a</text>
<rect x="310.7" y="335.8" width="9.1" height="27.3" fill="#9e2d64" stroke="#5e1a3a" stroke-width="0.9"/>
<line x1="315.25" y1="335.3" x2="315.25" y2="336.3" stroke="#2a2a2a" stroke-width="0.7"/>
<line x1="313.05" y1="335.3" x2="317.45" y2="335.3" stroke="#2a2a2a" stroke-width="0.8"/>
<line x1="313.05" y1="336.3" x2="317.45" y2="336.3" stroke="#2a2a2a" stroke-width="0.8"/>
<text x="315.25" y="328.9" font-size="7.3" text-anchor="middle">c</text>
<rect x="331" y="290.2" width="9.1" height="72.9" fill="#40c0c8" stroke="#1f6e74" stroke-width="0.9"/>
<line x1="335.55" y1="287.5" x2="335.55" y2="293.7" stroke="#2a2a2a" stroke-width="0.7"/>
<line x1="333.35" y1="287.5" x2="337.75" y2="287.5" stroke="#2a2a2a" stroke-width="0.8"/>
<line x1="333.35" y1="293.7" x2="337.75" y2="293.7" stroke="#2a2a2a" stroke-width="0.8"/>
<text x="335.55" y="283.8" font-size="7.3" text-anchor="middle">b</text>
<rect x="340.1" y="278.3" width="9.1" height="84.8" fill="#9e2d64" stroke="#5e1a3a" stroke-width="0.9"/>
<line x1="344.65" y1="276.4" x2="344.65" y2="279.9" stroke="#2a2a2a" stroke-width="0.7"/>
<line x1="342.45" y1="276.4" x2="346.85" y2="276.4" stroke="#2a2a2a" stroke-width="0.8"/>
<line x1="342.45" y1="279.9" x2="346.85" y2="279.9" stroke="#2a2a2a" stroke-width="0.8"/>
<text x="344.65" y="270.7" font-size="7.3" text-anchor="middle">a</text>
<text transform="translate(210.6,311.7) rotate(-90)" x="0" y="2.51" font-size="7.6" text-anchor="middle">ABA content (μg/g FW)</text>
<text transform="translate(373.6,313.1) rotate(-90)" x="0" y="2.52" font-size="7.65" text-anchor="middle">MT content (μg/g FW)</text>
<rect x="277" y="255.3" width="3.9" height="3.9" fill="#40c0c8" stroke="#1f6e74" stroke-width="0.6"/>
<text x="283" y="259.5" font-size="7.5" text-anchor="start">ABA</text>
<rect x="307.8" y="255.3" width="3.9" height="3.9" fill="#9e2d64" stroke="#5e1a3a" stroke-width="0.6"/>
<text x="314" y="259.5" font-size="7.5" text-anchor="start">MT</text>
<text x="376.3" y="257.4" font-size="7.2" text-anchor="middle" font-weight="bold">G</text>
</g>
</svg>
</body></html>
